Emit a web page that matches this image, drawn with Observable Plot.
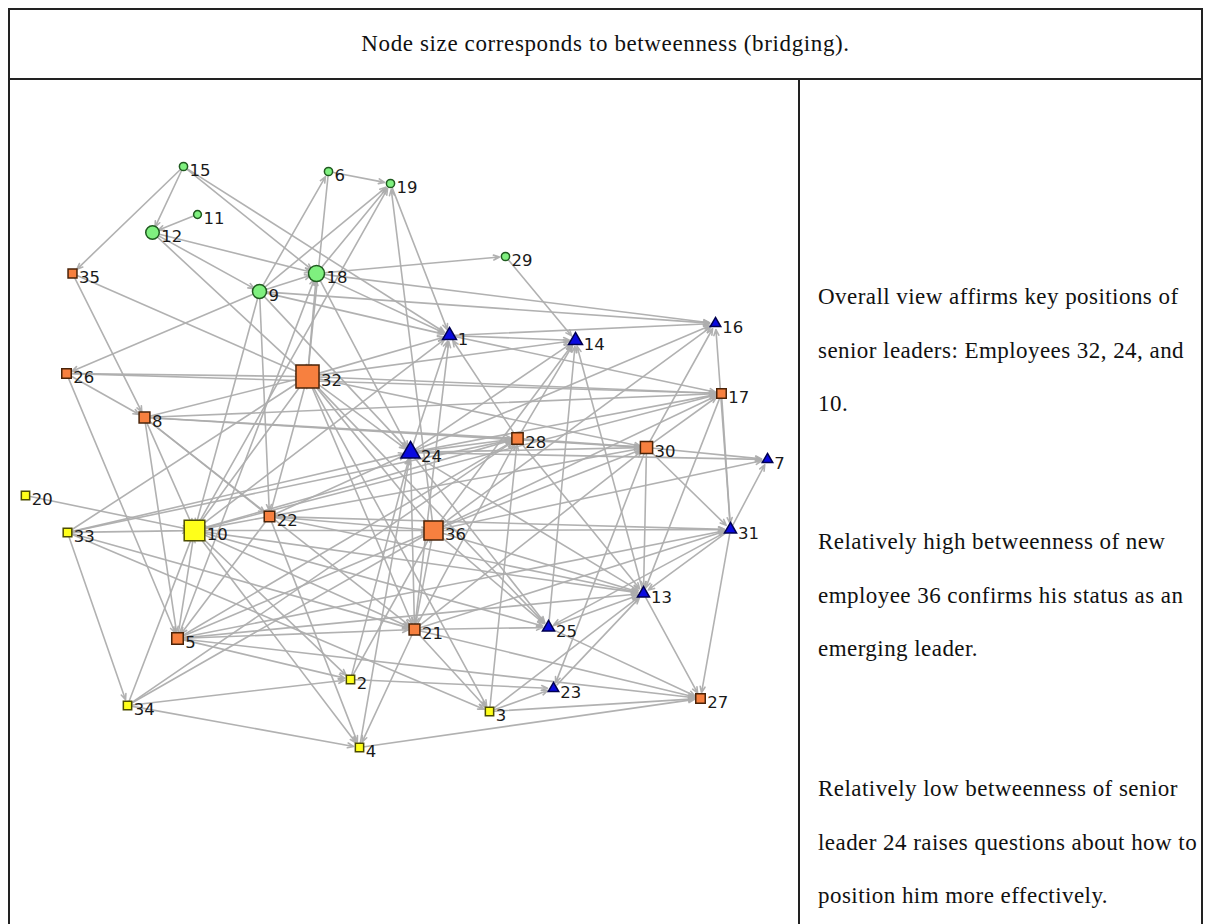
<!DOCTYPE html>
<html>
<head>
<meta charset="utf-8">
<script src="https://cdn.jsdelivr.net/npm/d3@7"></script>
<script src="https://cdn.jsdelivr.net/npm/@observablehq/plot@0.6"></script>
<style>
  html, body { margin: 0; padding: 0; background: #fff; }
  body { width: 1209px; height: 924px; overflow: hidden; position: relative; font-family: "Liberation Serif", "Times New Roman", serif; }
  #frame { position: absolute; left: 8px; top: 8px; width: 1191px; height: 930px; border: 2px solid #222; box-sizing: content-box; }
  #header { position: absolute; left: 10px; top: 78px; width: 1191px; height: 0; border-top: 2px solid #222; }
  #divider { position: absolute; left: 798px; top: 80px; width: 0; height: 850px; border-left: 2px solid #222; }
  #title { position: absolute; left: 10px; top: 10px; width: 1191px; height: 68px; line-height: 68px; text-align: center; font-size: 23px; letter-spacing: 0.62px; color: #111; }
  .para { position: absolute; left: 818px; font-size: 23px; letter-spacing: 0.45px; line-height: 53.5px; color: #111; white-space: nowrap; }
  #chart { position: absolute; left: 10px; top: 82px; }
</style>
</head>
<body>
<div id="frame"></div>
<div id="header"></div>
<div id="divider"></div>
<div id="title">Node size corresponds to betweenness (bridging).</div>
<div class="para" style="top:270px">Overall view affirms key positions of<br>senior leaders: Employees 32, 24, and<br>10.</div>
<div class="para" style="top:515px">Relatively high betweenness of new<br>employee 36 confirms his status as an<br>emerging leader.</div>
<div class="para" style="top:762px">Relatively low betweenness of senior<br>leader 24 raises questions about how to<br>position him more effectively.</div>
<div id="chart"></div>
<script>
// ---- data ----
const nodeIds = ["15","6","19","11","12","29","35","18","9","1","14","16","26","32","17","8","28","24","30","7","20","10","22","36","33","31","13","25","21","5","2","23","34","3","27","4"];
const nodeX   = [183, 328, 390, 197, 152, 505, 72, 316, 259, 449, 575, 715, 66, 307, 721, 144, 517, 410, 646, 767, 25, 194, 269, 433, 67, 730, 643, 548, 414, 177, 350, 553, 127, 489, 700, 359];
const nodeY   = [166, 171, 183, 214, 232, 256, 273, 273, 291, 335, 340, 323, 373, 376, 393, 417, 438, 452, 447, 459, 495, 530, 516, 530, 532, 529, 593, 627, 629, 638, 679, 688, 705, 711, 698, 747];
const nodeGroup = ["green","green","green","green","green","green","orange","green","green","blue","blue","blue","orange","orange","orange","orange","orange","blue","orange","blue","yellow","yellow","orange","orange","yellow","blue","blue","blue","orange","orange","yellow","blue","yellow","yellow","orange","yellow"];
const betweenness = [10, 10, 10, 9, 27, 10, 15, 38, 29, 16, 16, 9, 17, 100, 17, 22, 24, 30, 28, 9, 13, 80, 21, 68, 14, 12, 12, 12, 22, 25, 13, 9, 13, 13, 17, 13];

const edges = [
  ["15","12"],["15","35"],["15","18"],["15","1"],["11","12"],
  ["12","18"],["12","9"],["12","32"],
  ["35","8"],["35","32"],
  ["9","26"],["9","6"],["9","19"],["9","18"],["9","10"],["9","24"],["9","1"],["9","16"],["9","22"],
  ["6","19"],["6","32"],
  ["18","19"],["19","1"],["10","19"],["36","19"],
  ["18","29"],["18","16"],["18","1"],["32","18"],["18","24"],["5","18"],
  ["29","14"],
  ["1","14"],["1","17"],["24","1"],["32","1"],["28","1"],["21","1"],["10","1"],["1","16"],
  ["28","14"],["13","14"],["24","14"],["36","14"],["25","14"],["32","14"],
  ["30","16"],["36","16"],["31","16"],["24","16"],
  ["26","32"],["26","17"],["26","8"],["26","5"],
  ["32","17"],["8","32"],["10","32"],["32","24"],["32","36"],["32","25"],["32","3"],["22","32"],["32","30"],["32","21"],
  ["8","17"],["8","28"],["8","30"],["8","10"],["8","5"],["8","22"],["8","21"],
  ["17","31"],["17","13"],["24","17"],["30","17"],["36","17"],["10","17"],
  ["24","28"],["28","30"],["28","13"],["21","28"],["3","28"],["10","28"],["5","28"],["34","28"],
  ["24","30"],["24","7"],["24","21"],["4","24"],["24","25"],["24","13"],["22","24"],["2","24"],
  ["30","7"],["30","31"],["30","13"],["30","23"],["36","30"],["22","30"],["21","30"],
  ["31","7"],["36","7"],
  ["20","10"],
  ["22","10"],["36","10"],["5","10"],["34","10"],["10","2"],["10","21"],["10","25"],["10","13"],["10","4"],
  ["33","10"],["33","24"],["33","28"],["33","21"],["33","34"],["33","3"],["33","32"],
  ["22","36"],["22","31"],["22","5"],["22","4"],["22","13"],
  ["36","31"],["36","21"],["36","25"],["2","36"],["34","36"],["36","13"],["5","36"],
  ["31","13"],["31","27"],["21","31"],["5","31"],["31","25"],
  ["13","27"],["25","13"],["3","13"],["5","13"],["23","13"],
  ["25","27"],["21","25"],
  ["21","4"],["21","3"],["5","21"],["21","27"],
  ["5","2"],["5","27"],
  ["34","2"],["2","23"],
  ["34","4"],
  ["3","27"],["3","23"],
  ["4","27"]
];

const groupFill   = {green: "#7ff07f", orange: "#f7803f", yellow: "#ffff1a", blue: "#0a0ae0"};
const groupStroke = {green: "#1f5a1f", orange: "#4a2308", yellow: "#4d4d00", blue: "#000050"};
const groupSymbol = {green: "circle", orange: "square", yellow: "square", blue: "triangle"};

// ---- build tables ----
const nodes = nodeIds.map((id, i) => ({id, x: nodeX[i], y: nodeY[i], group: nodeGroup[i], b: betweenness[i]}));
const byId = new Map(nodes.map(n => [n.id, n]));
const links = edges.map(([s, t]) => ({s: byId.get(s), t: byId.get(t)}));

const rScale = d3.scaleSqrt().domain([0, 100]).range([0, 13]);
const halfWidth = d => {
  const r = rScale(d.b);
  const sym = groupSymbol[d.group];
  return sym === "square" ? 0.886 * r : sym === "triangle" ? 1.2 * r : r;
};

const plot = Plot.plot({
  width: 788,
  height: 842,
  margin: 0,
  x: {domain: [10, 798], range: [0, 788], axis: null},
  y: {domain: [82, 924], range: [0, 842], axis: null},
  r: {type: "sqrt", domain: [0, 100], range: [0, 13]},
  color: {type: "identity"},
  style: {background: "transparent", overflow: "visible"},
  marks: [
    Plot.arrow(links, {
      x1: d => d.s.x, y1: d => d.s.y, x2: d => d.t.x, y2: d => d.t.y,
      stroke: "#adadad", strokeWidth: 1.6, strokeOpacity: 0.95,
      headLength: 6, headAngle: 45, insetStart: 5, insetEnd: 6
    }),
    Plot.dot(nodes, {
      x: "x", y: "y", r: "b",
      symbol: d => groupSymbol[d.group],
      fill: d => groupFill[d.group],
      stroke: d => groupStroke[d.group],
      strokeWidth: 1.5
    }),
    Plot.text(nodes, {
      x: d => d.x + halfWidth(d) + 2,
      y: "y",
      text: "id",
      textAnchor: "start",
      dy: 4,
      fontSize: 16.5,
      fontFamily: "DejaVu Sans",
      fill: "#1a1a1a"
    })
  ]
});
document.getElementById("chart").appendChild(plot);
</script>
</body>
</html>
